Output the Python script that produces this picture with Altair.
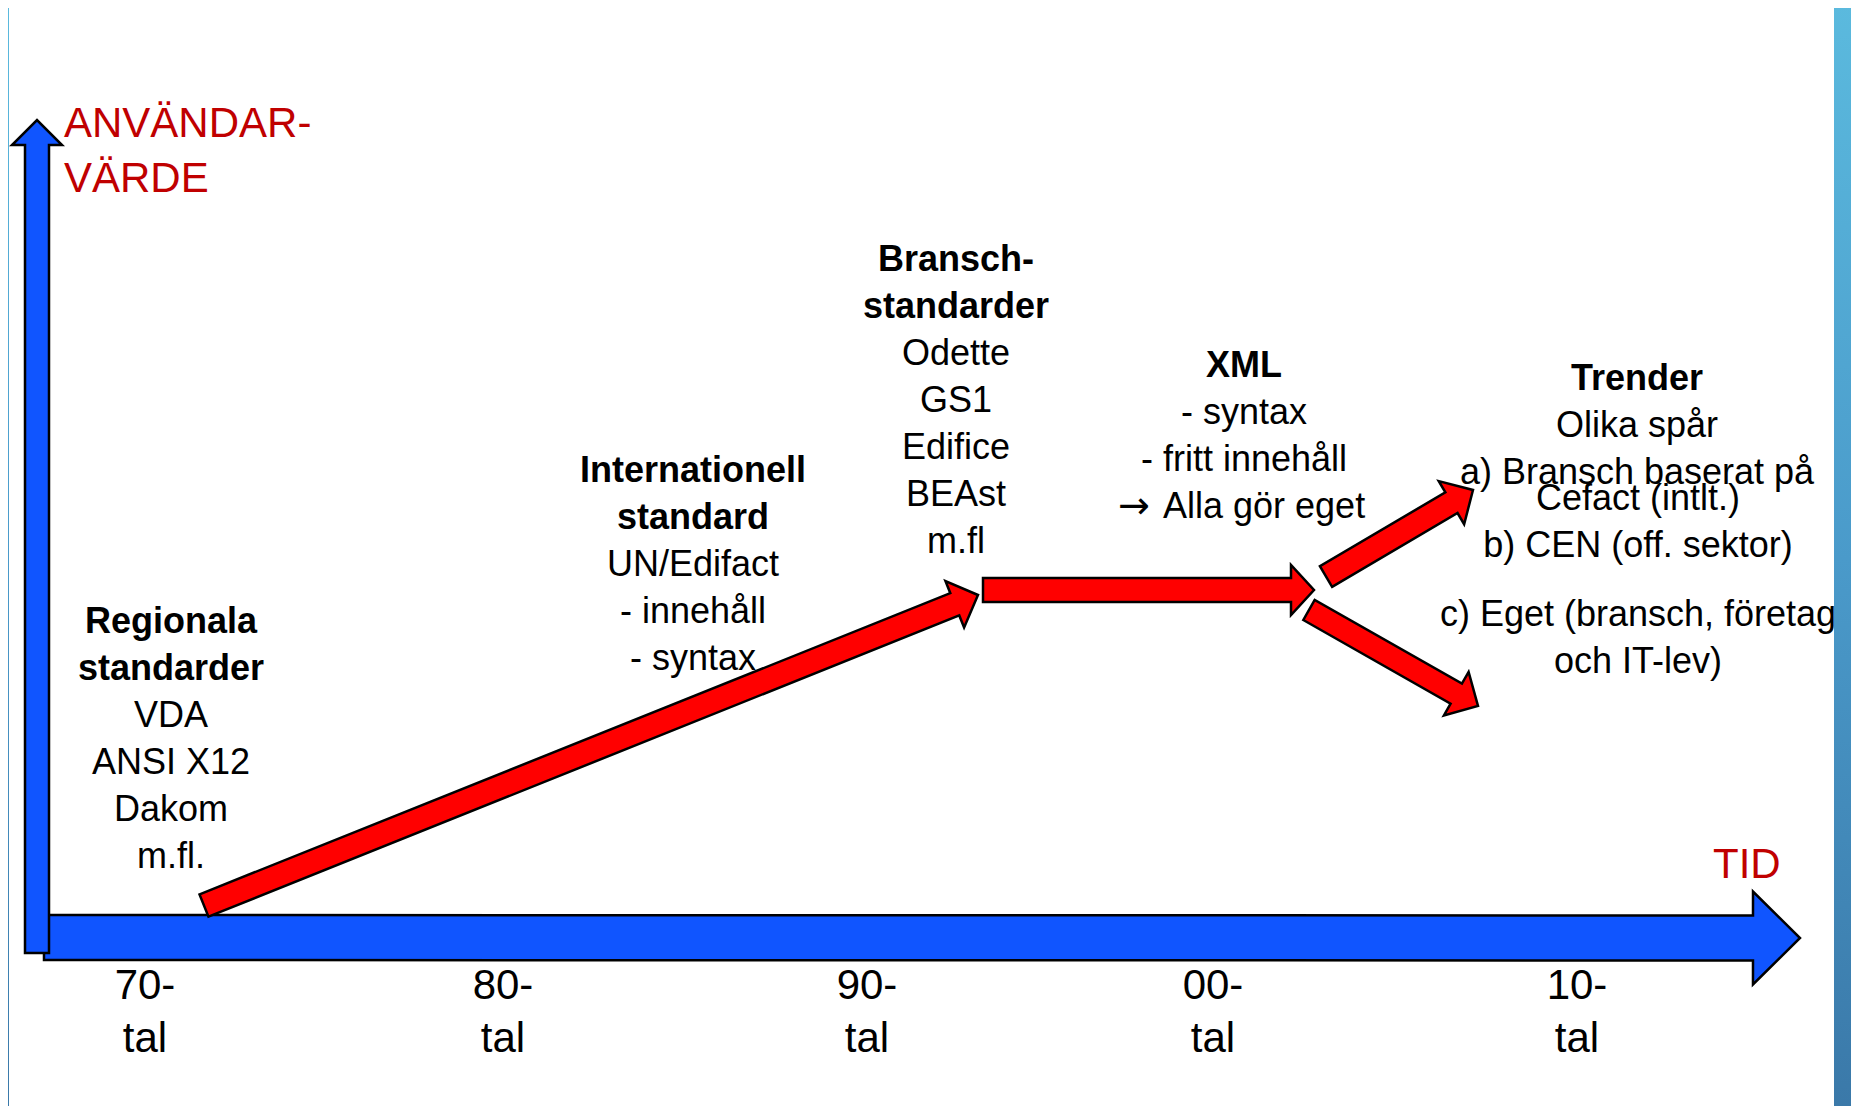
import altair as alt
import pandas as pd
import numpy as np

# ---------------- canvas (page coordinates of the reference) ----------------
W, H = 1843, 1098
X0, Y0 = 8, 8

# ---------------- data ----------------
# decade tick labels on the time axis
decade_labels = ["70-", "80-", "90-", "00-", "10-"]
decade_x = [145, 503, 867, 1213, 1577]
decade_suffix = "tal"
decade_y1, decade_y2 = 999, 1052

# text blocks: lines, how many leading lines are bold, centre x, first baseline y
block_lines = [
    ["Regionala", "standarder", "VDA", "ANSI X12", "Dakom", "m.fl."],
    ["Internationell", "standard", "UN/Edifact", "- innehåll", "- syntax"],
    ["Bransch-", "standarder", "Odette", "GS1", "Edifice", "BEAst", "m.fl"],
    ["XML", "- syntax", "- fritt innehåll", "\u2192 Alla gör eget"],
    ["Trender", "Olika spår", "a) Bransch baserat på"],
    ["Cefact (intlt.)", "b) CEN (off. sektor)"],
    ["c) Eget (bransch, företag", "och IT-lev)"],
]
block_bold = [2, 2, 2, 1, 1, 0, 0]
block_x = [171, 693, 956, 1244, 1637, 1638, 1638]
block_y = [633, 482, 271, 377, 390, 510, 626]
line_step = 47
# a line starting with an arrow symbol: where the symbol sits and where the words start
arrow_glyph_x = 1134
arrow_words_x = 1163

# axis titles
axis_titles = ["ANVÄNDAR-", "VÄRDE", "TID"]
axis_title_x = [64, 64, 1713]
axis_title_y = [137, 192, 878]

# arrows: tail point, tip point, shaft width, head width, head length
arrow_names = ["tid", "varde", "r1", "r2", "r3", "r4"]
arrow_tail_x = [44, 37, 204, 983, 1326, 1309]
arrow_tail_y = [937.5, 953, 905.5, 590, 576.5, 610]
arrow_tip_x = [1800, 37, 978, 1314, 1473, 1478]
arrow_tip_y = [938, 120, 595, 590, 490, 706]
arrow_shaft_w = [45, 24, 24, 24, 24, 23]
arrow_head_w = [93, 50, 50, 50, 50, 50]
arrow_head_len = [47, 25, 25, 23, 25, 25]

# frame (slide border)
frame_x = [0, 1834, 0]
frame_x2 = [9, 1859, 1859]
frame_y = [0, 0, 0]
frame_y2 = [1118, 1118, 4]

# ---------------- build tables ----------------
rows = []
for name, tx, ty, px, py, sw, hw, hl in zip(arrow_names, arrow_tail_x, arrow_tail_y,
                                            arrow_tip_x, arrow_tip_y, arrow_shaft_w,
                                            arrow_head_w, arrow_head_len):
    t = np.array([tx, ty], float)
    p = np.array([px, py], float)
    u = (p - t) / np.linalg.norm(p - t)
    n = np.array([-u[1], u[0]])
    b = p - u * hl
    verts = [t + n * sw / 2, b + n * sw / 2, b + n * hw / 2, p,
             b - n * hw / 2, b - n * sw / 2, t - n * sw / 2]
    for i, v in enumerate(verts):
        rows.append({"arrow": name, "i": i, "x": v[0], "y": v[1]})
arrows = pd.DataFrame(rows)

text_rows = []
glyph_rows = []
for lines, nb, cx, cy in zip(block_lines, block_bold, block_x, block_y):
    for k, s in enumerate(lines):
        y = cy + k * line_step
        if s.startswith("\u2192"):
            glyph_rows.append({"text": "\u2192", "x": arrow_glyph_x, "y": y})
            text_rows.append({"text": s[1:].strip(), "x": arrow_words_x, "y": y,
                              "bold": False, "align": "left"})
        else:
            text_rows.append({"text": s, "x": cx, "y": y, "bold": k < nb,
                              "align": "center"})
texts = pd.DataFrame(text_rows)
glyphs = pd.DataFrame(glyph_rows)

ticks = pd.DataFrame({
    "text": decade_labels + [decade_suffix] * len(decade_labels),
    "x": decade_x + decade_x,
    "y": [decade_y1] * len(decade_x) + [decade_y2] * len(decade_x),
})
titles = pd.DataFrame({"text": axis_titles, "x": axis_title_x, "y": axis_title_y})
frame = pd.DataFrame({"x": frame_x, "x2": frame_x2, "y": frame_y, "y2": frame_y2})

# ---------------- scales ----------------
xs = alt.Scale(domain=[X0, X0 + W], nice=False, zero=False)
ys = alt.Scale(domain=[Y0, Y0 + H], nice=False, zero=False, reverse=True)
FONT = "Liberation Sans"

grad = alt.Gradient(
    gradient="linear",
    stops=[alt.GradientStop(color="#5BBADE", offset=0),
           alt.GradientStop(color="#4A9ACA", offset=0.5),
           alt.GradientStop(color="#3A78A8", offset=1)],
    x1=0, x2=0, y1=0, y2=1,
)

frame_layer = alt.Chart(frame).mark_rect(fill=grad, strokeWidth=0).encode(
    x=alt.X("x:Q", scale=xs, axis=None),
    x2="x2:Q",
    y=alt.Y("y:Q", scale=ys, axis=None),
    y2="y2:Q",
)


def arrow_layer(names, color):
    return alt.Chart(arrows[arrows["arrow"].isin(names)]).mark_line(
        interpolate="linear-closed", fill=color, stroke="black",
        strokeWidth=2.5, strokeJoin="miter", strokeMiterLimit=20,
    ).encode(
        x=alt.X("x:Q", scale=xs, axis=None),
        y=alt.Y("y:Q", scale=ys, axis=None),
        order="i:Q",
        detail="arrow:N",
    )


blue = "#1055FF"
red = "#FF0000"
layer_tid = arrow_layer(["tid"], blue)
layer_varde = arrow_layer(["varde"], blue)
layer_red = arrow_layer(["r1", "r2", "r3", "r4"], red)


def text_layer(df, size, color, bold=False, align="center", font=FONT):
    return alt.Chart(df).mark_text(
        font=font, fontSize=size, color=color, align=align,
        baseline="alphabetic", fontWeight="bold" if bold else "normal",
    ).encode(
        x=alt.X("x:Q", scale=xs, axis=None),
        y=alt.Y("y:Q", scale=ys, axis=None),
        text="text:N",
    )


bold_text = text_layer(texts[texts["bold"]], 36, "black", bold=True)
plain_text = text_layer(texts[(~texts["bold"]) & (texts["align"] == "center")], 36, "black")
left_text = text_layer(texts[texts["align"] == "left"], 36, "black", align="left")
glyph_text = text_layer(glyphs, 38, "black", font="DejaVu Sans")
tick_text = text_layer(ticks, 42, "black")
title_text = text_layer(titles, 42, "#C00000", align="left")

chart = alt.layer(
    frame_layer, layer_tid, layer_varde, layer_red,
    bold_text, plain_text, left_text, glyph_text, tick_text, title_text,
).properties(
    width=W, height=H, padding=0,
    autosize=alt.AutoSizeParams(type="none"),
    background="white",
).configure_view(strokeWidth=0)

chart.save("out.html", embed_options={"renderer": "svg", "actions": False})
